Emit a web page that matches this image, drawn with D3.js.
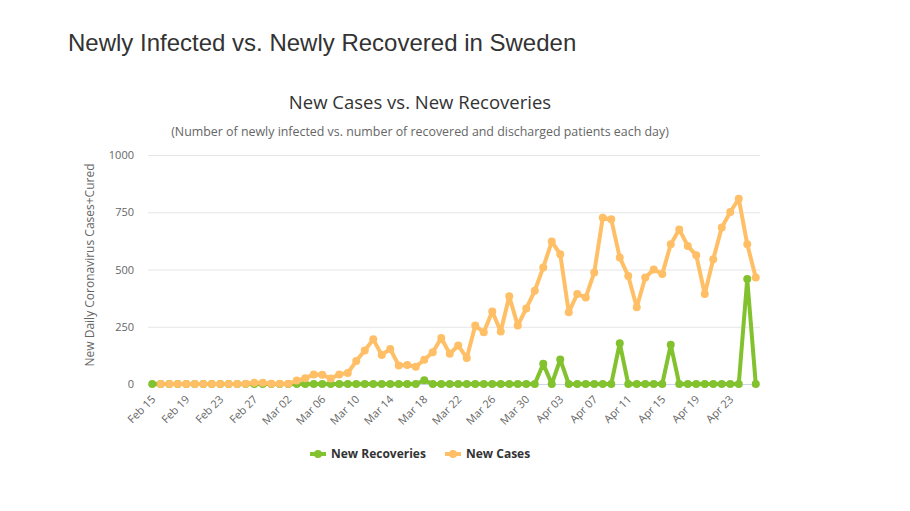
<!DOCTYPE html>
<html>
<head>
<meta charset="utf-8">
<style>
  body { margin: 0; background: #fff; }
  svg { display: block; }
  text { font-family: "Open Sans", "DejaVu Sans", sans-serif; }
  .grid line { stroke: #e6e6e6; }
  .tick-label { fill: #666; font-size: 11px; }
</style>
</head>
<body>
<svg width="910" height="511"></svg>
<script src="https://cdnjs.cloudflare.com/ajax/libs/d3/7.8.5/d3.min.js"></script>
<script>

var dates = ["Feb 15","Feb 16","Feb 17","Feb 18","Feb 19","Feb 20","Feb 21","Feb 22","Feb 23","Feb 24",
  "Feb 25","Feb 26","Feb 27","Feb 28","Feb 29","Mar 01","Mar 02","Mar 03","Mar 04","Mar 05",
  "Mar 06","Mar 07","Mar 08","Mar 09","Mar 10","Mar 11","Mar 12","Mar 13","Mar 14","Mar 15",
  "Mar 16","Mar 17","Mar 18","Mar 19","Mar 20","Mar 21","Mar 22","Mar 23","Mar 24","Mar 25",
  "Mar 26","Mar 27","Mar 28","Mar 29","Mar 30","Mar 31","Apr 01","Apr 02","Apr 03","Apr 04",
  "Apr 05","Apr 06","Apr 07","Apr 08","Apr 09","Apr 10","Apr 11","Apr 12","Apr 13","Apr 14",
  "Apr 15","Apr 16","Apr 17","Apr 18","Apr 19","Apr 20","Apr 21","Apr 22","Apr 23","Apr 24",
  "Apr 25","Apr 26"];

var newRecoveries = [0,0,0,0,0,0,0,0,0,0,
  0,0,0,0,0,0,0,0,0,0,
  0,0,0,0,0,0,0,0,0,0,
  0,0,16,0,0,0,0,0,0,0,
  0,0,0,0,0,0,88,0,107,0,
  0,0,0,0,0,178,0,0,0,0,
  0,171,0,0,0,0,0,0,0,0,
  458,0];

var newCases = [null,0,0,0,0,0,0,0,0,0,
  0,1,5,5,1,1,1,15,25,42,
  40,24,42,48,100,146,195,127,153,81,
  83,75,106,139,201,132,168,114,255,226,
  317,229,383,255,330,407,509,622,567,313,
  393,378,487,726,719,552,472,335,465,500,
  480,610,675,603,562,393,545,683,751,809,
  610,465];

var yTicks = [0, 250, 500, 750, 1000];

var seriesNames = ["New Recoveries", "New Cases"];
var seriesColors = ["#82c22e", "#ffbf66"];

var margin = { top: 155, right: 150, bottom: 127, left: 148 };
var width = 910, height = 511;

var svg = d3.select("svg");

// headings
svg.append("text")
  .attr("x", 68).attr("y", 51)
  .style("font-family", "'Liberation Sans', Arial, sans-serif")
  .style("font-size", "24px")
  .attr("fill", "#333")
  .text("Newly Infected vs. Newly Recovered in Sweden");

svg.append("text")
  .attr("x", 420).attr("y", 109)
  .attr("text-anchor", "middle")
  .style("font-size", "18.5px")
  .attr("fill", "#333")
  .text("New Cases vs. New Recoveries");

svg.append("text")
  .attr("x", 420).attr("y", 136)
  .attr("text-anchor", "middle")
  .style("font-size", "12.4px")
  .attr("fill", "#666")
  .text("(Number of newly infected vs. number of recovered and discharged patients each day)");

var x = d3.scaleBand()
  .domain(d3.range(dates.length))
  .range([margin.left, width - margin.right]);

var y = d3.scaleLinear()
  .domain([0, 1000])
  .range([height - margin.bottom, margin.top]);

function cx(i) { return x(i) + x.bandwidth() / 2; }

// grid + y labels
var grid = svg.append("g").attr("class", "grid");
grid.selectAll("line")
  .data(yTicks)
  .join("line")
  .attr("x1", margin.left).attr("x2", width - margin.right)
  .attr("y1", function(d){ return y(d) + 0.5; })
  .attr("y2", function(d){ return y(d) + 0.5; });

svg.append("line")
  .attr("x1", margin.left).attr("x2", width - margin.right)
  .attr("y1", y(0) + 0.5).attr("y2", y(0) + 0.5)
  .attr("stroke", "#ccd6eb");

svg.selectAll(".ylab")
  .data(yTicks)
  .join("text")
  .attr("class", "tick-label")
  .attr("x", 134)
  .attr("y", function(d){ return y(d) + 4; })
  .attr("text-anchor", "end")
  .text(function(d){ return d; });

svg.append("text")
  .attr("transform", "translate(94,265) rotate(-90)")
  .attr("text-anchor", "middle")
  .style("font-size", "12px")
  .attr("fill", "#666")
  .text("New Daily Coronavirus Cases+Cured");

// x labels every 4 days
svg.selectAll(".xlab")
  .data(d3.range(0, dates.length, 4))
  .join("text")
  .attr("class", "tick-label")
  .attr("text-anchor", "end")
  .attr("transform", function(i){ return "translate(" + (cx(i) + 4) + "," + (y(0) + 16) + ") rotate(-45)"; })
  .text(function(i){ return dates[i]; });

// series
var allSeries = [newRecoveries, newCases];

var line = d3.line()
  .defined(function(d){ return d != null; })
  .x(function(d, i){ return cx(i); })
  .y(function(d){ return y(d); });

allSeries.forEach(function(values, s) {
  var g = svg.append("g");
  g.append("path")
    .datum(values)
    .attr("d", line)
    .attr("fill", "none")
    .attr("stroke", seriesColors[s])
    .attr("stroke-width", 4)
    .attr("stroke-linejoin", "round")
    .attr("stroke-linecap", "round");
  g.selectAll("circle")
    .data(values.map(function(v, i){ return { v: v, i: i }; }).filter(function(d){ return d.v != null; }))
    .join("circle")
    .attr("cx", function(d){ return cx(d.i); })
    .attr("cy", function(d){ return y(d.v); })
    .attr("r", 4)
    .attr("fill", seriesColors[s]);
});

// legend
var legendX = [310, 445];
seriesNames.forEach(function(name, s) {
  var lg = svg.append("g").attr("transform", "translate(" + legendX[s] + ",454)");
  lg.append("line")
    .attr("x1", 0).attr("x2", 16)
    .attr("stroke", seriesColors[s]).attr("stroke-width", 4);
  lg.append("circle").attr("cx", 8).attr("r", 4).attr("fill", seriesColors[s]);
  lg.append("text")
    .attr("x", 21).attr("y", 4)
    .style("font-size", "12px").style("font-weight", "bold")
    .attr("fill", "#333")
    .text(name);
});

</script>
</body>
</html>
